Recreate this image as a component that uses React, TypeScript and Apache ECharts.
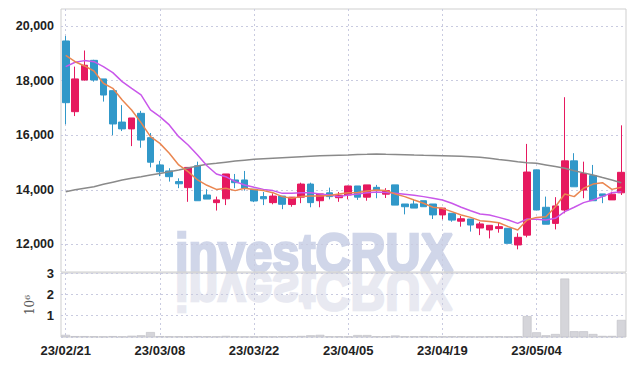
import React, { useEffect, useRef } from 'react';
import * as echarts from 'echarts';

const dates = [
  '23/02/21', '23/02/22', '23/02/23', '23/02/24', '23/02/27', '23/02/28', '23/03/02', '23/03/03', '23/03/06', '23/03/07',
  '23/03/08', '23/03/09', '23/03/10', '23/03/13', '23/03/14', '23/03/15', '23/03/16', '23/03/17', '23/03/20', '23/03/21',
  '23/03/22', '23/03/23', '23/03/24', '23/03/27', '23/03/28', '23/03/29', '23/03/30', '23/03/31', '23/04/03', '23/04/04',
  '23/04/05', '23/04/06', '23/04/07', '23/04/10', '23/04/11', '23/04/12', '23/04/13', '23/04/14', '23/04/17', '23/04/18',
  '23/04/19', '23/04/20', '23/04/21', '23/04/24', '23/04/25', '23/04/26', '23/04/27', '23/04/28', '23/05/02', '23/05/03',
  '23/05/04', '23/05/08', '23/05/09', '23/05/10', '23/05/11', '23/05/12', '23/05/15', '23/05/16', '23/05/17', '23/05/18',
];

// [open, close, low, high]
const candles = [
  [19450, 17190, 16400, 19630], [16860, 18060, 16700, 18510], [18020, 18560, 18000, 19100], [18740, 18020, 17960, 18760],
  [18060, 17470, 17230, 18060], [17630, 16410, 16000, 17630], [16480, 16230, 16150, 17100], [16230, 16630, 15600, 16630],
  [16800, 15820, 15540, 16890], [15910, 15010, 14820, 16080], [14910, 14660, 14500, 15060], [14690, 14480, 14300, 14790],
  [14300, 14220, 14060, 14420], [14080, 14820, 13560, 14820], [14880, 13600, 13600, 15030], [13810, 13660, 13660, 14020],
  [13530, 13630, 13240, 13750], [13670, 14580, 13440, 14580], [14360, 14260, 14060, 14580], [14360, 14060, 13970, 14690],
  [14020, 13590, 13550, 14020], [13750, 13670, 13440, 13920], [13530, 13770, 13470, 13870], [13770, 13470, 13290, 13770],
  [13460, 13730, 13380, 13730], [13730, 14210, 13510, 14260], [14210, 13530, 13360, 14260], [13600, 13850, 13360, 13850],
  [13890, 13750, 13650, 14080], [13710, 13800, 13560, 13920], [13810, 14140, 13650, 14150], [14140, 13730, 13630, 14140],
  [13730, 14180, 13600, 14180], [14090, 13990, 13690, 14180], [13840, 13970, 13700, 14060], [14180, 13440, 13440, 14180],
  [13480, 13380, 13100, 13480], [13480, 13330, 13330, 13630], [13600, 13380, 13380, 13600], [13480, 13080, 12930, 13480],
  [13080, 13330, 12920, 13330], [13140, 12890, 12830, 13140], [12850, 12940, 12650, 13040], [12930, 12710, 12470, 12930],
  [12600, 12750, 12340, 12830], [12530, 12700, 12220, 12700], [12580, 12650, 12430, 12800], [12590, 12040, 12040, 12590],
  [11980, 12260, 11820, 12410], [12340, 14650, 12260, 15680], [14730, 13260, 13260, 14730], [13360, 12740, 12740, 13750],
  [12770, 13410, 12550, 13730], [13260, 15060, 13140, 17390], [15060, 14110, 14110, 15340], [13990, 14600, 13690, 15030],
  [14520, 13600, 13600, 14910], [13850, 13770, 13510, 13850], [13630, 13840, 13630, 13930], [13890, 14640, 13810, 16360],
];

const maShort = [
  18920, 18690, 18535, 18350, 17900, 17715, 17290, 16920, 16460, 15945, 15700, 15335, 14910, 14665, 14360,
  14165, 14015, 14055, 13970, 14055, 14015, 13970, 13895, 13750, 13690, 13750, 13775, 13775, 13795, 13845,
  13895, 13905, 13955, 13995, 13970, 13845, 13750, 13625, 13505, 13360, 13320, 13200, 13075, 12990, 12870,
  12835, 12795, 12650, 12530, 12895, 12990, 13015, 13380, 13845, 13750, 14055, 14210, 14260, 14015, 14090,
];

const maMid = [
  18510, 18670, 18730, 18690, 18510, 18290, 17960, 17715, 17475, 16925, 16680, 16375, 15945, 15640, 15275,
  14880, 14580, 14480, 14300, 14175, 14090, 14015, 13970, 13870, 13870, 13895, 13895, 13845, 13810, 13750,
  13810, 13845, 13895, 13920, 13905, 13870, 13835, 13800, 13750, 13690, 13625, 13505, 13360, 13235, 13115,
  13075, 12990, 12895, 12770, 12930, 12920, 12895, 12955, 13200, 13360, 13530, 13625, 13750, 13895, 13930,
];

const maLong = [
  13930, 14000, 14060, 14115, 14200, 14280, 14359, 14420, 14480, 14542, 14600, 14660, 14725, 14800, 14870,
  14933, 14970, 15010, 15050, 15085, 15116, 15135, 15155, 15175, 15195, 15214, 15230, 15245, 15258, 15268,
  15275, 15290, 15300, 15311, 15300, 15295, 15287, 15275, 15265, 15258, 15250, 15238, 15226, 15214, 15190,
  15153, 15110, 15070, 15030, 14994, 14970, 14910, 14850, 14786, 14700, 14620, 14542, 14450, 14360, 14261,
];

// volume in millions of shares
const volume = [
  0.10, 0.04, 0.04, 0.03, 0.02, 0.04, 0.02, 0.06, 0.08, 0.23,
  0.04, 0.03, 0.03, 0.03, 0.04, 0.03, 0.02, 0.05, 0.03, 0.02,
  0.02, 0.03, 0.02, 0.03, 0.04, 0.05, 0.08, 0.10, 0.03, 0.03,
  0.02, 0.09, 0.09, 0.03, 0.03, 0.07, 0.03, 0.03, 0.04, 0.03,
  0.02, 0.03, 0.03, 0.02, 0.02, 0.03, 0.03, 0.01, 0.03, 0.98,
  0.22, 0.08, 0.14, 2.74, 0.27, 0.27, 0.14, 0.05, 0.05, 0.80,
];

const priceTicks = [12000, 14000, 16000, 18000, 20000];

const UP = '#e6195f';
const DOWN = '#3198c9';
const labelFont = "'Liberation Sans', Arial, sans-serif";

export default function App() {
  const ref = useRef<HTMLDivElement>(null);

  useEffect(() => {
    if (!ref.current) return;
    const chart = echarts.init(ref.current, undefined, { renderer: 'svg' });
    const splitStyle = { color: '#c9cbe0', type: [2, 3] as any, width: 1 };
    const wmStyle = {
      text: 'investCRUX',
      font: "bold 54px 'Liberation Sans', Arial, sans-serif",
      verticalAlign: 'middle',
      align: 'left',
      lineWidth: 2.6,
      lineJoin: 'round',
    };
    const option: any = {
      animation: false,
      backgroundColor: '#fff',
      graphic: [
        {
          type: 'text',
          z: -10,
          silent: true,
          x: 175,
          y: 252,
          scaleX: 0.9,
          style: { ...wmStyle, fill: '#d0d6e9', stroke: '#d0d6e9' },
        },
        {
          type: 'group',
          z: -10,
          silent: true,
          x: 175,
          y: 544,
          scaleX: 0.9,
          scaleY: -1,
          children: [
            {
              type: 'text',
              z: -10,
              x: 0,
              y: 252,
              style: { ...wmStyle, fill: '#e8e9f1', stroke: '#e8e9f1' },
            },
          ],
        },
      ],
      grid: [
        { left: 61, right: 8, top: 9, height: 263, show: true, borderColor: '#cfcfcf', borderWidth: 1 },
        { left: 61, right: 8, top: 273, height: 64, show: true, borderColor: '#cfcfcf', borderWidth: 1 },
      ],
      xAxis: [
        {
          type: 'category',
          gridIndex: 0,
          data: dates,
          boundaryGap: true,
          axisLine: { show: false },
          axisTick: { show: false, interval: 9, alignWithLabel: true },
          axisLabel: { show: false, interval: 9 },
          splitLine: { show: true, interval: 9, alignWithLabel: true, lineStyle: splitStyle },
        },
        {
          type: 'category',
          gridIndex: 1,
          data: dates,
          boundaryGap: true,
          axisLine: { show: false },
          axisTick: { show: false, interval: 9, alignWithLabel: true },
          axisLabel: {
            interval: 9,
            margin: 7,
            color: '#222',
            fontFamily: labelFont,
            fontWeight: 'bold',
            fontSize: 13,
          },
          splitLine: { show: true, interval: 9, alignWithLabel: true, lineStyle: splitStyle },
        },
      ],
      yAxis: [
        {
          type: 'value',
          gridIndex: 0,
          min: 10990,
          max: 20620,
          axisLine: { show: false },
          axisTick: { show: false, customValues: priceTicks },
          axisLabel: {
            customValues: priceTicks,
            margin: 7,
            color: '#222',
            fontFamily: labelFont,
            fontWeight: 'bold',
            fontSize: 12.5,
            formatter: (v: number) => v.toLocaleString('en-US'),
          },
          splitLine: { show: true, lineStyle: splitStyle },
        },
        {
          type: 'value',
          gridIndex: 1,
          min: 0,
          max: 3,
          interval: 1,
          name: '10⁶',
          nameLocation: 'middle',
          nameRotate: 90,
          nameGap: 23,
          nameTextStyle: { color: '#555', fontFamily: "'DejaVu Serif', serif", fontSize: 12 },
          axisLine: { show: false },
          axisTick: { show: false },
          axisLabel: {
            showMinLabel: false,
            margin: 7,
            color: '#222',
            fontFamily: labelFont,
            fontWeight: 'bold',
            fontSize: 13,
          },
          splitLine: { show: true, lineStyle: splitStyle },
        },
      ],
      series: [
        {
          type: 'candlestick',
          xAxisIndex: 0,
          yAxisIndex: 0,
          data: candles,
          barWidth: '76%',
          itemStyle: { color: UP, color0: DOWN, borderColor: UP, borderColor0: DOWN, borderWidth: 1 },
        },
        {
          type: 'line',
          xAxisIndex: 0,
          yAxisIndex: 0,
          data: maLong,
          symbol: 'none',
          lineStyle: { color: '#8a8a8a', width: 1.5 },
        },
        {
          type: 'line',
          xAxisIndex: 0,
          yAxisIndex: 0,
          data: maMid,
          symbol: 'none',
          lineStyle: { color: '#c957ea', width: 1.5 },
        },
        {
          type: 'line',
          xAxisIndex: 0,
          yAxisIndex: 0,
          data: maShort,
          symbol: 'none',
          lineStyle: { color: '#ea8650', width: 1.5 },
        },
        {
          type: 'bar',
          xAxisIndex: 1,
          yAxisIndex: 1,
          data: volume,
          barCategoryGap: '6%',
          itemStyle: { color: '#d5d5da', borderColor: '#bdbdc4', borderWidth: 0.6 },
        },
      ],
    };
    chart.setOption(option);
    return () => chart.dispose();
  }, []);

  return (
    <div
      ref={ref}
      style={{ position: 'fixed', left: 0, top: 0, width: 634, height: 366, background: '#fff' }}
    />
  );
}
